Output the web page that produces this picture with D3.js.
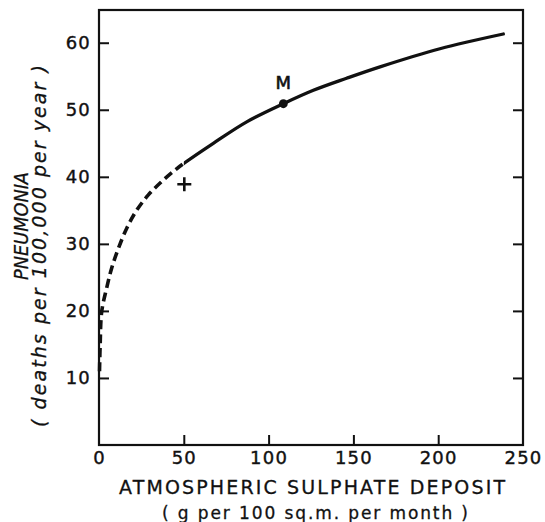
<!DOCTYPE html>
<html>
<head>
<meta charset="utf-8">
<script src="https://cdn.jsdelivr.net/npm/d3@7"></script>
<style>
  html, body { margin: 0; padding: 0; background: #fff; }
  svg { display: block; }
  text { font-family: "DejaVu Sans", sans-serif; fill: #111; }
</style>
</head>
<body>
<svg id="chart" width="545" height="522"></svg>
<script>
// ---- data ----
const xTicks = [0, 50, 100, 150, 200, 250];
const yTicks = [10, 20, 30, 40, 50, 60];
// dashed (extrapolated) part of the curve: [sulphate, pneumonia]
const dashedX = [0.3, 0.7, 1.6, 4.5, 7.5, 11.4, 16.3, 22.2, 29.1, 37.0, 44.8, 50.0];
const dashedY = [11.0, 15.0, 19.9, 23.4, 26.4, 29.3, 32.3, 35.0, 37.3, 39.3, 41.0, 42.0];
// solid part of the curve
const solidX = [50.0, 67.4, 87.1, 108.7, 126.4, 146.0, 165.7, 201.0, 238.4];
const solidY = [42.0, 45.0, 48.2, 50.9, 52.9, 54.7, 56.4, 59.1, 61.3];
// marked point M and the cross
const pointM = {label: "M", x: 108.7, y: 50.9};
const crossPt = {x: 50.3, y: 38.9};
const xTitle = "ATMOSPHERIC SULPHATE DEPOSIT";
const xSub = "( g  per 100 sq.m. per month )";
const yTitle = "PNEUMONIA";
const ySub = "( deaths per 100,000 per year )";

const svg = d3.select("#chart");
const L = 99, R = 523, T = 10, B = 445;
const x = d3.scaleLinear().domain([0, 250]).range([L, R]);
const y = d3.scaleLinear().domain([0, 65]).range([B, 9.2]);

// frame
svg.append("rect").attr("x", L).attr("y", T).attr("width", R - L).attr("height", B - T)
  .attr("fill", "none").attr("stroke", "#111").attr("stroke-width", 2.2);

// left axis (inward ticks)
const gl = svg.append("g").attr("transform", `translate(${L},0)`)
  .call(d3.axisLeft(y).tickValues(yTicks).tickSize(-10).tickPadding(8).tickFormat(d3.format("d")));
// right axis (inward ticks, no labels)
const gr = svg.append("g").attr("transform", `translate(${R},0)`)
  .call(d3.axisRight(y).tickValues(yTicks).tickSize(-10).tickFormat(""));
// bottom axis
const gb = svg.append("g").attr("transform", `translate(0,${B})`)
  .call(d3.axisBottom(x).tickValues(xTicks).tickSize(-10).tickPadding(6).tickFormat(d3.format("d")));

[gl, gr, gb].forEach(g => {
  g.select(".domain").remove();
  g.selectAll(".tick line").attr("stroke", "#111").attr("stroke-width", 2);
  g.selectAll(".tick text").attr("font-size", 18).attr("fill", "#111")
    .attr("stroke", "#111").attr("stroke-width", 0.4)
    .attr("font-family", "DejaVu Sans, sans-serif").attr("letter-spacing", 1.2);
});
gb.selectAll(".tick").filter(d => d === 0 || d === 250).select("line").remove();

// curve: one smooth path, split by clipping into dashed and solid parts
const all = dashedX.map((v, i) => [v, dashedY[i]])
  .concat(solidX.slice(1).map((v, i) => [v, solidY[i + 1]]));
const line = d3.line().x(d => x(d[0])).y(d => y(d[1])).curve(d3.curveCatmullRom.alpha(0.5));
const xSplit = x(solidX[0]);
const defs = svg.append("defs");
defs.append("clipPath").attr("id", "clipDash").append("rect")
  .attr("x", 0).attr("y", 0).attr("width", xSplit).attr("height", 522);
defs.append("clipPath").attr("id", "clipSolid").append("rect")
  .attr("x", xSplit).attr("y", 0).attr("width", 545 - xSplit).attr("height", 522);
svg.append("path").datum(all).attr("d", line).attr("fill", "none")
  .attr("clip-path", "url(#clipDash)")
  .attr("stroke", "#111").attr("stroke-width", 3.6).attr("stroke-dasharray", "9,5");
svg.append("path").datum(all).attr("d", line).attr("fill", "none")
  .attr("clip-path", "url(#clipSolid)")
  .attr("stroke", "#111").attr("stroke-width", 3.3).attr("stroke-linecap", "round");

// point M
svg.append("circle").attr("cx", x(pointM.x)).attr("cy", y(pointM.y)).attr("r", 4.4).attr("fill", "#111");
svg.append("text").attr("x", x(pointM.x)).attr("y", y(pointM.y) - 15)
  .attr("text-anchor", "middle").attr("font-size", 18)
  .attr("stroke", "#111").attr("stroke-width", 0.6).text(pointM.label);

// cross
const cx = x(crossPt.x), cy = y(crossPt.y);
svg.append("path").attr("d", `M${cx - 7},${cy}H${cx + 7}M${cx},${cy - 7}V${cy + 7}`)
  .attr("stroke", "#111").attr("stroke-width", 2.6);

// x titles
svg.append("text").attr("x", 312).attr("y", 494).attr("text-anchor", "middle")
  .attr("font-size", 19).attr("stroke", "#111").attr("stroke-width", 0.3)
  .attr("textLength", 386).attr("lengthAdjust", "spacing").text(xTitle);
svg.append("text").attr("x", 315).attr("y", 519).attr("text-anchor", "middle")
  .attr("font-size", 17).attr("stroke", "#111").attr("stroke-width", 0.3)
  .attr("textLength", 306).attr("lengthAdjust", "spacing").text(xSub);

// y titles (rotated)
svg.append("text").attr("transform", "translate(28,226) rotate(-90)").attr("text-anchor", "middle")
  .attr("font-size", 20).attr("font-style", "italic").attr("stroke", "#111").attr("stroke-width", 0.3)
  .attr("textLength", 108).attr("lengthAdjust", "spacingAndGlyphs").text(yTitle);
svg.append("text").attr("transform", "translate(46,246) rotate(-90)").attr("text-anchor", "middle")
  .attr("font-size", 19).attr("font-style", "italic").attr("stroke", "#111").attr("stroke-width", 0.3)
  .attr("textLength", 362).attr("lengthAdjust", "spacing").text(ySub);
</script>
</body>
</html>
